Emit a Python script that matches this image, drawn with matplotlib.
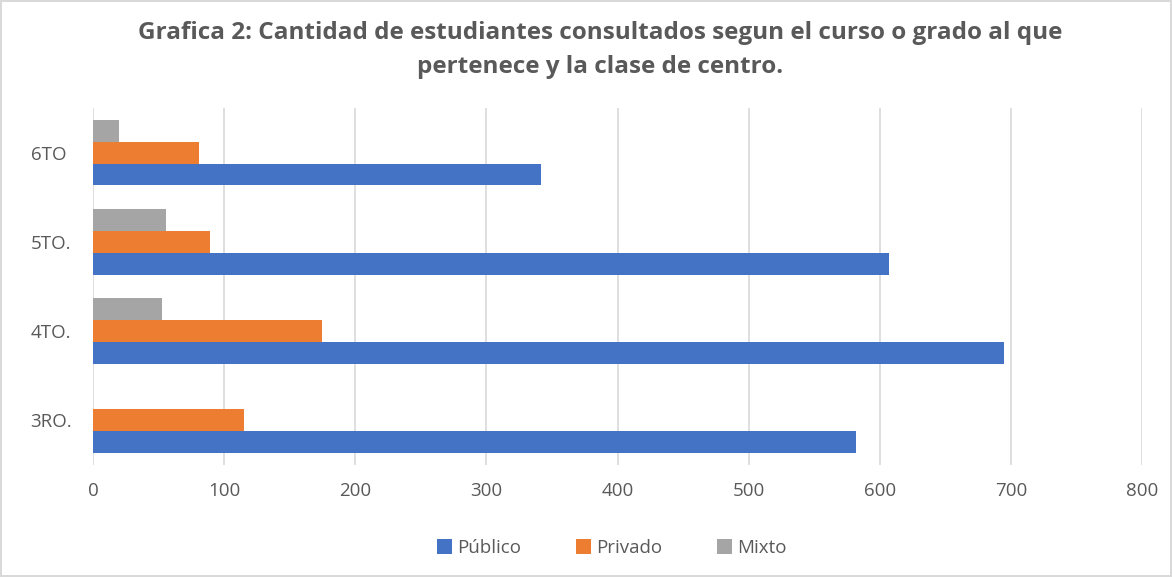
import matplotlib.pyplot as plt
import numpy as np

# Students per grade and school type
grades = ['3RO.', '4TO.', '5TO.', '6TO']
publico = [582, 695, 607, 342]
privado = [115, 175, 89, 81]
mixto = [0, 53, 56, 20]

plt.rcParams['font.family'] = ['Open Sans', 'DejaVu Sans']
text_color = '#595959'

fig = plt.figure(figsize=(11.72, 5.77), dpi=100)
fig.patch.set_edgecolor('#d9d9d9')
fig.patch.set_linewidth(1.5)
ax = fig.add_axes([93 / 1172, 1 - 465 / 577, (1142 - 93) / 1172, (465 - 108) / 577])

y = np.arange(len(grades))
h = 0.245
ax.barh(y - h, publico, h, color='#4472c4', label='Público')
ax.barh(y, privado, h, color='#ed7d31', label='Privado')
ax.barh(y + h, mixto, h, color='#a5a5a5', label='Mixto')

ax.set_xlim(0, 800)
ax.set_ylim(-0.5, 3.5)
ax.set_xticks(range(0, 801, 100))
ax.set_yticks(y)
ax.set_yticklabels(grades)
ax.grid(axis='x', color='#d9d9d9', linewidth=1.2)
ax.set_axisbelow(True)
for s in ax.spines.values():
    s.set_visible(False)
ax.tick_params(axis='both', length=0, colors=text_color, labelsize=13.5)
ax.tick_params(axis='x', pad=12)
ax.tick_params(axis='y', pad=45)
for lbl in ax.get_yticklabels():
    lbl.set_horizontalalignment('left')

fig.text(0.512, 1 - 50 / 577,
         'Grafica 2: Cantidad de estudiantes consultados segun el curso o grado al que\n'
         'pertenece y la clase de centro.',
         ha='center', va='center', fontsize=17.5, fontweight='bold',
         color=text_color, linespacing=1.6)

fig.legend(loc='center', bbox_to_anchor=(0.522, 1 - 548 / 577), ncol=3,
           frameon=False, fontsize=13.5, labelcolor=text_color,
           handlelength=0.8, handleheight=0.8, handletextpad=0.3, columnspacing=2.9)

fig.savefig('out.png', dpi=100)
